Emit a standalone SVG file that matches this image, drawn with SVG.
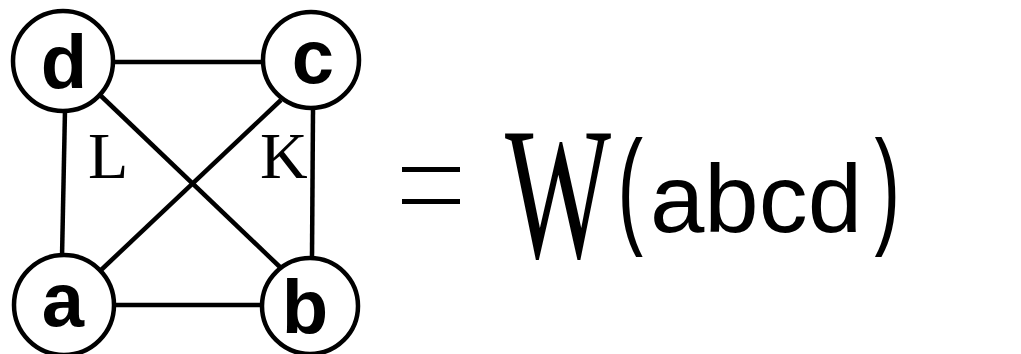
<svg xmlns="http://www.w3.org/2000/svg" width="1021" height="354" viewBox="0 0 1021 354">
<style>
.node circle{fill:#fff;stroke:#000;stroke-width:4.5}
.node text{font-family:"Liberation Sans",sans-serif;font-weight:bold;font-size:76px;text-anchor:middle;fill:#000}
.edges line{stroke:#000;stroke-width:4.5}
.lbl{font-family:"Liberation Serif",serif;font-size:66px;fill:#000}
.sans{font-family:"Liberation Sans",sans-serif;fill:#000}
.serif{font-family:"Liberation Serif",serif;fill:#000}
</style>
<rect width="1021" height="354" fill="#fff"/>
<g id="connectors" class="edges">
<line x1="112" y1="62" x2="265" y2="62"/>
<line x1="113" y1="305" x2="264" y2="305"/>
<line x1="65" y1="110" x2="62" y2="258"/>
<line x1="313" y1="110" x2="312" y2="258"/>
<line x1="100" y1="95" x2="281" y2="268"/>
<line x1="281" y1="100" x2="100" y2="271"/>
</g>
<g id="node-d" class="node"><circle cx="63" cy="61" r="50"/><text x="64" y="88">d</text></g>
<g id="node-c" class="node"><circle cx="311" cy="60" r="48"/><text x="313" y="83">c</text></g>
<g id="node-a" class="node"><circle cx="64" cy="305" r="50"/><text x="63" y="326">a</text></g>
<g id="node-b" class="node"><circle cx="310" cy="306" r="48"/><text x="305" y="333">b</text></g>
<text class="lbl" x="88" y="178">L</text>
<text class="lbl" x="260" y="178">K</text>
<g id="formula">
<rect x="402" y="167" width="58" height="5" fill="#000"/>
<rect x="402" y="199" width="58" height="5" fill="#000"/>
<text class="serif" x="505" y="257" font-size="188" textLength="106" lengthAdjust="spacingAndGlyphs">W</text>
<text class="sans" transform="translate(623,230) scale(0.6,1)" x="-9" y="0" font-size="128">(</text>
<text class="sans" x="650" y="232" font-size="97" textLength="212" lengthAdjust="spacingAndGlyphs">abcd</text>
<text class="sans" transform="translate(877,230) scale(0.6,1)" x="-4" y="0" font-size="128">)</text>
</g>
</svg>
